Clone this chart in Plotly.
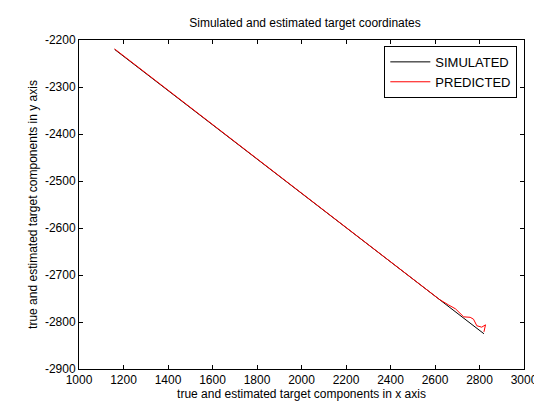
import plotly.graph_objects as go

sim_x = [1160, 1300, 1450, 1600, 1750, 1900, 2050, 2200, 2350, 2500, 2650, 2750, 2820]
sim_y = [-2220, -2271, -2326, -2380, -2435, -2490, -2544, -2599, -2654, -2709, -2763, -2800, -2825]

pred_x = [1160, 1300, 1450, 1600, 1750, 1900, 2050, 2200, 2350, 2500, 2620, 2662, 2692,
          2729, 2758, 2773, 2788, 2810, 2827, 2820]
pred_y = [-2219, -2270, -2326, -2380, -2434, -2490, -2543, -2598, -2653, -2708, -2752, -2764, -2772,
          -2789, -2790, -2794, -2808, -2811, -2806, -2821]

x_ticks = [1000, 1200, 1400, 1600, 1800, 2000, 2200, 2400, 2600, 2800, 3000]
y_ticks = [-2900, -2800, -2700, -2600, -2500, -2400, -2300, -2200]
y_tick_labels = ["-2900", "-2800", "-2700", "-2600", "-2500", "-2400", "-2300", "-2200"]

font = "Liberation Sans, Arial, sans-serif"

fig = go.Figure()
fig.add_trace(go.Scatter(x=sim_x, y=sim_y, mode="lines", name="SIMULATED",
                         line=dict(color="black", width=1)))
fig.add_trace(go.Scatter(x=pred_x, y=pred_y, mode="lines", name="PREDICTED",
                         line=dict(color="red", width=1)))

axis_common = dict(showgrid=False, zeroline=False, showline=True, linecolor="black",
                   linewidth=1, mirror="ticks", ticks="inside", ticklen=4,
                   tickcolor="black", tickfont=dict(family=font, size=12, color="black"))

fig.update_layout(
    width=542, height=401,
    margin=dict(l=71, r=19, t=32, b=40),
    paper_bgcolor="white", plot_bgcolor="white",
    font=dict(family=font, size=12, color="black"),
    title=dict(text="Simulated and estimated target coordinates", x=0.548, xanchor="center",
               y=0.962, yanchor="middle", font=dict(family=font, size=12, color="black")),
    xaxis=dict(range=[1000, 3000], tickvals=x_ticks,
               title=dict(text="true and estimated target components in x axis", standoff=0,
                          font=dict(family=font, size=12)), **axis_common),
    yaxis=dict(range=[-2900, -2200], tickvals=y_ticks, ticktext=y_tick_labels,
               title=dict(text="true and estimated target components in y axis", standoff=4,
                          font=dict(family=font, size=12)), **axis_common),
    legend=dict(x=0.985, y=0.982, xanchor="right", yanchor="top", bgcolor="white",
                bordercolor="black", borderwidth=1, font=dict(family=font, size=13),
                tracegroupgap=0, itemwidth=40),
    showlegend=True,
)

fig.write_html("out.html")
